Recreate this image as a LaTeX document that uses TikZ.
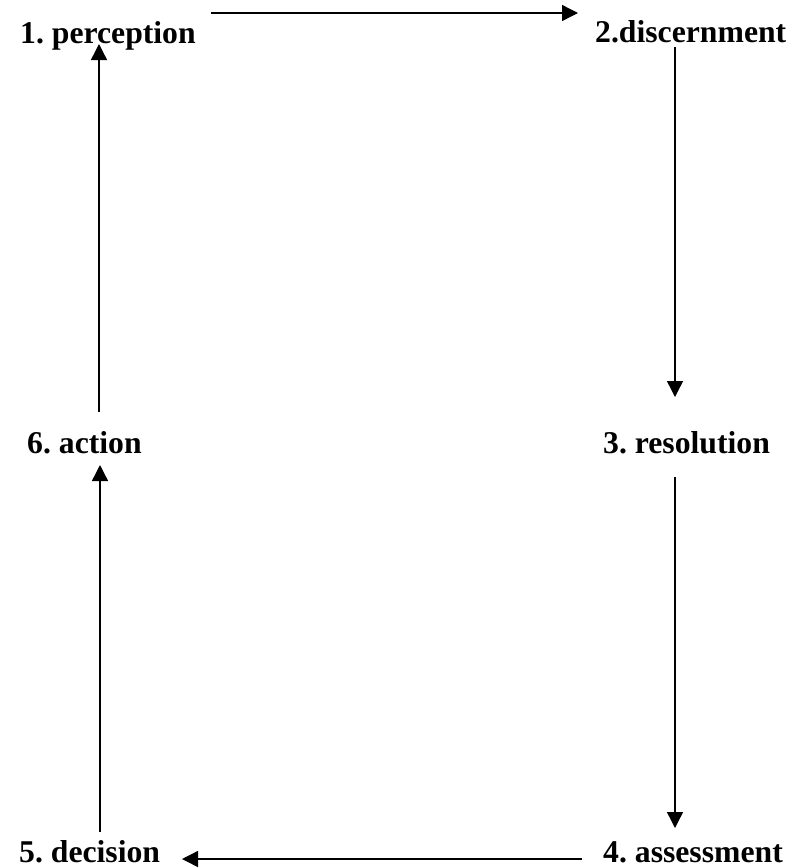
\documentclass[tikz,border=0pt]{standalone}
\usepackage{fontspec}
\setmainfont{Liberation Serif}
\usetikzlibrary{arrows.meta}
\frenchspacing
\tikzset{
  lbl/.style={anchor=base west, inner sep=0pt, font=\fontsize{31.7}{38}\selectfont\bfseries},
  arr/.style={line width=1.4pt, -{Triangle[length=16pt,width=16pt]}}
}
\begin{document}
\begin{tikzpicture}[x=1pt,y=-1pt]
\useasboundingbox (0,0) rectangle (804,868);
\node[lbl] (n1) at (20,43) {1. perception};
\node[lbl] (n2) at (595,42) {2.discernment};
\node[lbl] (n3) at (603,453) {3. resolution};
\node[lbl] (n4) at (603,862) {4. assessment};
\node[lbl] (n5) at (19,862) {5. decision};
\node[lbl] (n6) at (27,453) {6. action};
\coordinate (a12s) at (211,13);
\coordinate (a12e) at (578,13);
\coordinate (a23s) at (675,47);
\coordinate (a23e) at (675,397);
\coordinate (a34s) at (675,477);
\coordinate (a34e) at (675,828);
\coordinate (a45s) at (582,859);
\coordinate (a45e) at (182,859);
\coordinate (a56s) at (100,832);
\coordinate (a56e) at (100,465);
\coordinate (a61s) at (99,412);
\coordinate (a61e) at (99,44);
\draw[arr] (a12s) -- (a12e);
\draw[arr] (a23s) -- (a23e);
\draw[arr] (a34s) -- (a34e);
\draw[arr] (a45s) -- (a45e);
\draw[arr] (a56s) -- (a56e);
\draw[arr] (a61s) -- (a61e);
\end{tikzpicture}
\end{document}
